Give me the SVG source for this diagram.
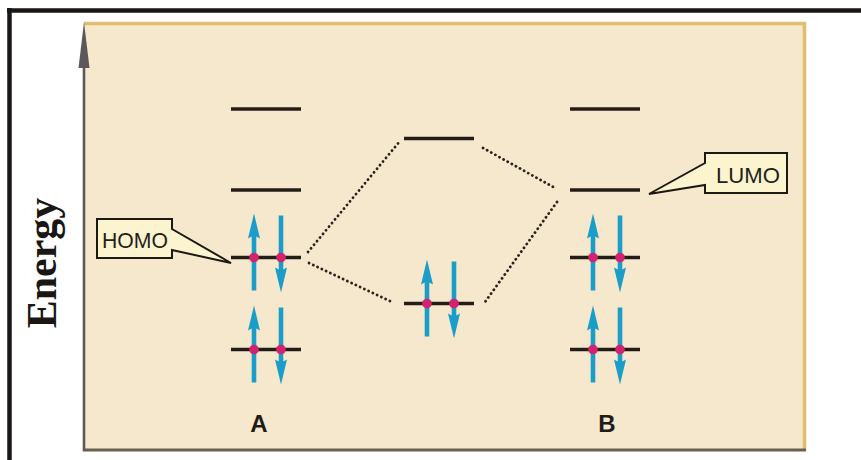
<svg xmlns="http://www.w3.org/2000/svg" width="861" height="460" viewBox="0 0 861 460">
  <style>
    .level { stroke: #241d17; stroke-width: 3.4; stroke-linecap: butt; }
    .dot-line { stroke: #2a231d; stroke-width: 2.8; stroke-dasharray: 0.1 4.6; stroke-linecap: round; fill: none; }
    .spin { fill: #1b9dc9; }
    .node-dot { fill: #d3236f; }
    .callout { fill: #fbf4cf; stroke: #1c1812; stroke-width: 2; stroke-linejoin: miter; }
    .callout-text { font-family: "Liberation Sans", Arial, sans-serif; font-size: 22px; fill: #231f1a; }
    .atom { font-family: "Liberation Sans", Arial, sans-serif; font-size: 24px; font-weight: bold; fill: #1f1b17; }
  </style>
  <defs>
    <!-- single up-spin arrow, tip at the origin -->
    <path id="up" class="spin" d="M0,0 L6,25 L2.3,23 L2.3,77 L-2.3,77 L-2.3,23 L-6,25 Z"/>
    <!-- an electron pair sitting on a level (level at y=0) -->
    <g id="pair">
      <use href="#up" transform="translate(0,-44)"/>
      <use href="#up" transform="translate(27,35) rotate(180)"/>
      <circle class="node-dot" cx="0" cy="0" r="4.8"/>
      <circle class="node-dot" cx="27" cy="0" r="4.8"/>
    </g>
  </defs>

  <!-- page frame -->
  <rect x="0" y="0" width="861" height="460" fill="#ffffff"/>
  <line x1="7" y1="10.5" x2="861" y2="10.5" stroke="#1a1614" stroke-width="4.5"/>
  <line x1="9.5" y1="8" x2="9.5" y2="460" stroke="#1a1614" stroke-width="4.5"/>

  <!-- plot panel -->
  <g id="panel">
    <rect x="84" y="22" width="721" height="428" fill="#f5e8cc"/>
    <line x1="84" y1="23.5" x2="806" y2="23.5" stroke="#dfbe6e" stroke-width="3.5"/>
    <line x1="804.5" y1="22" x2="804.5" y2="451" stroke="#dfbe6e" stroke-width="3.5"/>
    <line x1="83" y1="450" x2="806" y2="450" stroke="#6a604f" stroke-width="3"/>
  </g>

  <!-- energy axis -->
  <g id="axis">
    <line x1="84" y1="60" x2="84" y2="451" stroke="#5d565a" stroke-width="2.6"/>
    <path d="M84,22 L89.5,68 L78.5,68 Z" fill="#5d565a"/>
    <text transform="translate(56,263) rotate(-90)" text-anchor="middle" font-family="Liberation Serif, 'Times New Roman', serif" font-size="42" font-weight="bold" fill="#1a1614">Energy</text>
  </g>

  <!-- connectors between atomic and molecular levels -->
  <g id="connectors">
    <line class="dot-line" x1="308" y1="252" x2="400" y2="141"/>
    <line class="dot-line" x1="309" y1="263" x2="392" y2="302"/>
    <line class="dot-line" x1="483" y1="148" x2="555" y2="188"/>
    <line class="dot-line" x1="557" y1="202" x2="485" y2="302"/>
  </g>

  <!-- atom A -->
  <g id="atomA">
    <line class="level" x1="231" y1="109" x2="301" y2="109"/>
    <line class="level" x1="231" y1="190" x2="301" y2="190"/>
    <line class="level" x1="231" y1="257.5" x2="301" y2="257.5"/>
    <line class="level" x1="231" y1="349.5" x2="301" y2="349.5"/>
    <use href="#pair" transform="translate(254,257.5)"/>
    <use href="#pair" transform="translate(254,349.5)"/>
    <text class="atom" x="259" y="432" text-anchor="middle">A</text>
  </g>

  <!-- molecular orbitals -->
  <g id="molecule">
    <line class="level" x1="404" y1="138.5" x2="474" y2="138.5"/>
    <line class="level" x1="404" y1="303.5" x2="474" y2="303.5"/>
    <use href="#pair" transform="translate(427,303.5)"/>
  </g>

  <!-- atom B -->
  <g id="atomB">
    <line class="level" x1="570" y1="109" x2="640" y2="109"/>
    <line class="level" x1="570" y1="190" x2="640" y2="190"/>
    <line class="level" x1="570" y1="257.5" x2="640" y2="257.5"/>
    <line class="level" x1="570" y1="349.5" x2="640" y2="349.5"/>
    <use href="#pair" transform="translate(593,257.5)"/>
    <use href="#pair" transform="translate(593,349.5)"/>
    <text class="atom" x="607" y="432" text-anchor="middle">B</text>
  </g>

  <!-- HOMO callout -->
  <g id="homo">
    <path class="callout" d="M97,219 L172,219 L172,229 L231,263 L172,250 L172,258 L97,258 Z"/>
    <text class="callout-text" x="135" y="248" text-anchor="middle" textLength="66" lengthAdjust="spacingAndGlyphs">HOMO</text>
  </g>

  <!-- LUMO callout -->
  <g id="lumo">
    <path class="callout" d="M705,153 L787,153 L787,193 L705,193 L705,185 L649,194 L705,163 Z"/>
    <text class="callout-text" x="748" y="183" text-anchor="middle" textLength="64" lengthAdjust="spacingAndGlyphs">LUMO</text>
  </g>
</svg>
